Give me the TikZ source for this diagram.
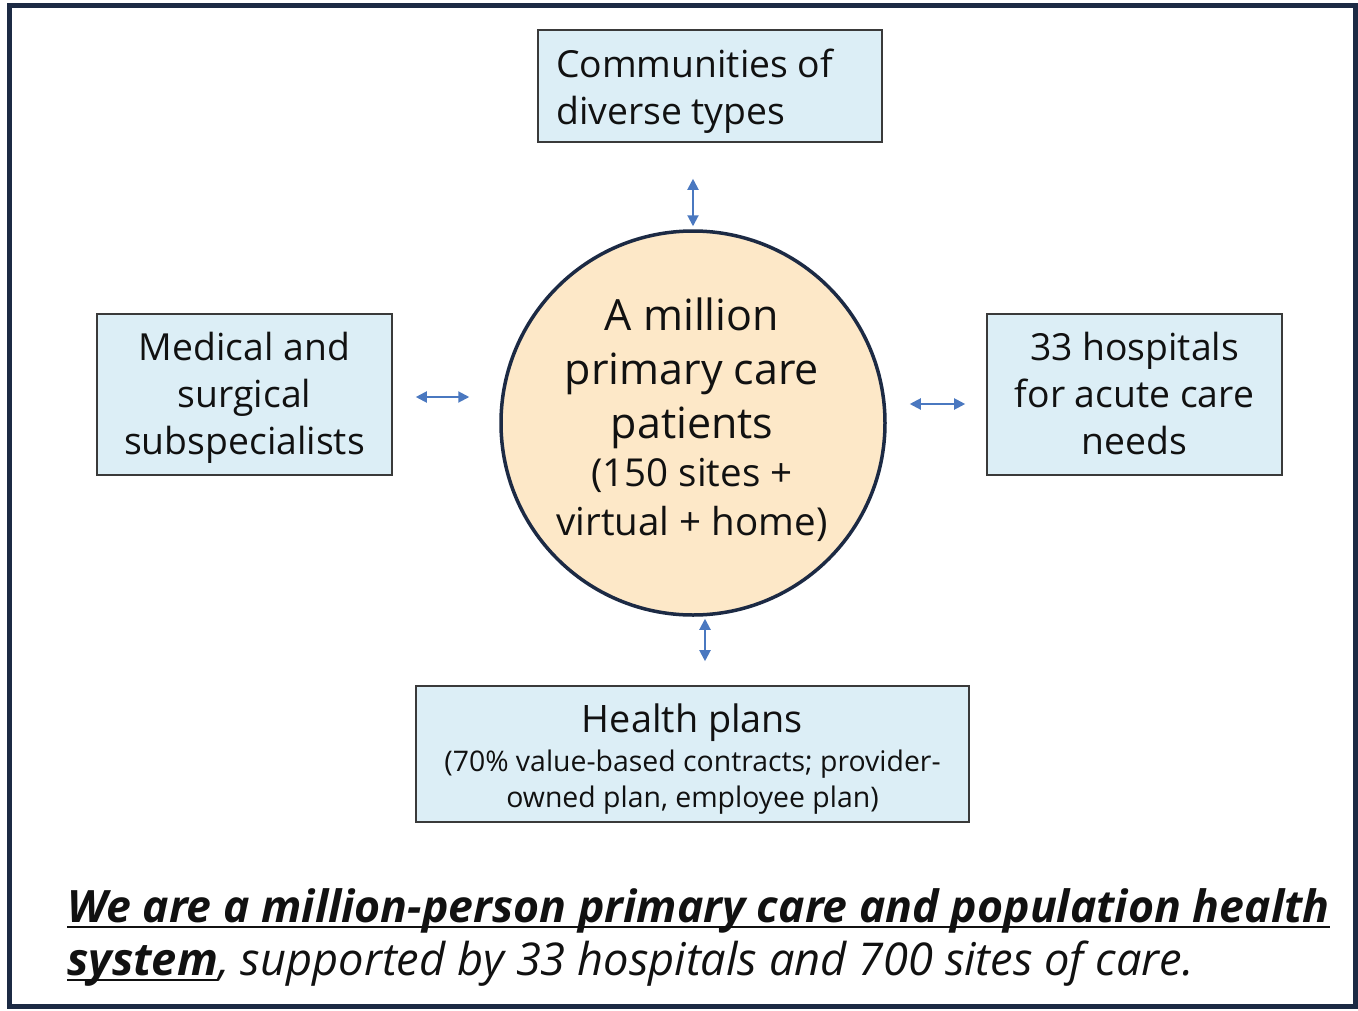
\documentclass[tikz,border=0pt]{standalone}
\usepackage{fontspec}
\setmainfont{Open Sans}
\usetikzlibrary{arrows.meta}
\definecolor{frameblue}{HTML}{1C2A44}
\definecolor{boxfill}{HTML}{DCEEF6}
\definecolor{boxedge}{HTML}{3A3A3A}
\definecolor{peach}{HTML}{FDE8C8}
\definecolor{arrowblue}{HTML}{4A78C0}
\definecolor{ink}{HTML}{111111}
\newsavebox\myulbox
\newcommand\myul[1]{\sbox\myulbox{#1}\rlap{\rule[-6pt]{\wd\myulbox}{2pt}}\usebox\myulbox}
\newcommand\bigfont{\fontsize{43}{54}\selectfont}
\newcommand\midfont{\fontsize{38.5}{48}\selectfont}
\newcommand\smallfont{\fontsize{28.4}{35}\selectfont}
\tikzset{
  infobox/.style={draw=boxedge, fill=boxfill, line width=1.6pt, inner sep=0pt, text=ink},
  linkarrow/.style={{Triangle[length=11pt,width=11pt]}-{Triangle[length=11pt,width=11pt]}, draw=arrowblue, fill=arrowblue, line width=2pt},
  boxfont/.style={font=\fontsize{37.3}{47}\selectfont},
}
\begin{document}
\begin{tikzpicture}[x=1pt,y=-1pt]
\useasboundingbox (0,0) rectangle (1358,1010);
\fill[white] (0,0) rectangle (1358,1010);
\draw[frameblue, line width=5pt] (9.5,5.5) rectangle (1355,1006);

\node[infobox, minimum width=344pt, minimum height=112pt] (top) at (710,86) {};
\node[boxfont, align=left, anchor=west, text=ink, inner sep=0pt] (toptext) at (556,91) {Communities of\\diverse types};

\node[infobox, minimum width=295pt, minimum height=161pt] (left) at (244.5,394.5) {};
\node[boxfont, align=center, text=ink] (lefttext) at (244.5,398) {Medical and\\surgical\\subspecialists};
\node[infobox, minimum width=295pt, minimum height=161pt] (right) at (1134.5,394.5) {};
\node[boxfont, align=center, text=ink] (righttext) at (1134.5,394) {33 hospitals\\for acute care\\needs};

\node[draw=frameblue, fill=peach, circle, line width=3.5pt, minimum size=384pt, inner sep=0pt] (hub) at (693,423) {};
\node[align=center, text=ink, font=\bigfont] (hubtext) at (692,420) {A million\\primary care\\patients\\[-6pt]\midfont (150 sites +\\[-5pt]\midfont virtual + home)};

\node[infobox, minimum width=553pt, minimum height=136pt] (bottom) at (692.5,754) {};
\node[align=center, text=ink, font=\fontsize{37.8}{40}\selectfont] (bottomtext) at (692.5,759) {Health plans\\[-1pt]\smallfont (70\% value-based contracts; provider-\\[-4pt]\smallfont owned plan, employee plan)};

\draw[linkarrow, shorten <=36pt, shorten >=3pt] (hub.north |- top.south) -- (hub.north);
\draw[linkarrow, shorten <=23pt, shorten >=30pt] ([yshift=-2.5pt]left.east) -- ([yshift=-2.5pt]left.east -| hub.west);
\draw[linkarrow, shorten <=23pt, shorten >=21pt] ([yshift=19pt]hub.east) -- ([yshift=19pt]hub.east -| right.west);
\draw[linkarrow, shorten <=2pt, shorten >=24pt] ([xshift=12pt]hub.south) -- ([xshift=12pt]hub.south |- bottom.north);

\node[anchor=base west, inner sep=0pt, text=ink, font=\fontsize{44.6}{50}\selectfont\bfseries\itshape] (claim1) at (67,922) {\myul{We are a million-person primary care and population health}};
\node[anchor=base west, inner sep=0pt, text=ink, font=\fontsize{45.2}{50}\selectfont\itshape] (claim2) at (67,975) {\myul{\bfseries system}, supported by 33 hospitals and 700 sites of care.};
\end{tikzpicture}
\end{document}
